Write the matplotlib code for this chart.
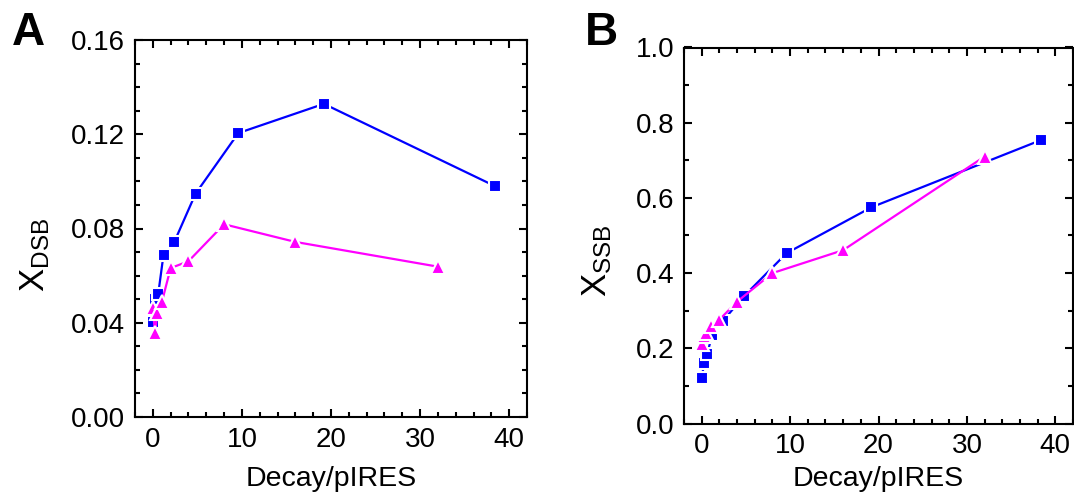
import matplotlib
matplotlib.use("Agg")
import matplotlib.pyplot as plt
from matplotlib.ticker import MultipleLocator

plt.rcParams['font.family'] = ['Liberation Sans', 'DejaVu Sans']
plt.rcParams['mathtext.fontset'] = 'custom'
plt.rcParams['mathtext.rm'] = 'Liberation Sans'
plt.rcParams['mathtext.it'] = 'Liberation Sans'

# ---- data ----
x_blue = [0, 0.3, 0.6, 1.2, 2.4, 4.8, 9.6, 19.2, 38.4]
x_mag = [0, 0.25, 0.5, 1, 2, 4, 8, 16, 32]

dsb_blue = [0.0405, 0.0499, 0.0520, 0.0689, 0.0742, 0.0948, 0.1205, 0.1329, 0.0980]
dsb_mag = [0.0462, 0.0355, 0.0443, 0.0486, 0.0632, 0.0661, 0.0818, 0.0743, 0.0638]

ssb_blue = [0.122, 0.162, 0.184, 0.236, 0.273, 0.339, 0.453, 0.575, 0.754]
ssb_mag = [0.212, 0.232, 0.240, 0.259, 0.276, 0.324, 0.400, 0.461, 0.710]

xlabel = "Decay/pIRES"
ylabels = [r"X$_{\mathrm{DSB}}$", r"X$_{\mathrm{SSB}}$"]
panel_labels = ["A", "B"]

BLUE = "#0000ff"
MAG = "#ff00ff"

W, H = 1074, 492
fig = plt.figure(figsize=(W / 100, H / 100), dpi=100)

def px_rect(l, t, r, b):
    return [l / W, 1 - b / H, (r - l) / W, (b - t) / H]

axA = fig.add_axes(px_rect(135, 40, 527, 417))
axB = fig.add_axes(px_rect(684, 47.5, 1073, 423.5))

def style(ax, ymax, ymaj, ymin):
    ax.set_xlim(-2, 42)
    ax.set_ylim(0, ymax)
    ax.xaxis.set_major_locator(MultipleLocator(10))
    ax.xaxis.set_minor_locator(MultipleLocator(2))
    ax.yaxis.set_major_locator(MultipleLocator(ymaj))
    ax.yaxis.set_minor_locator(MultipleLocator(ymin))
    ax.tick_params(which='both', direction='in', top=True, right=True,
                   labelsize=20, width=1.5, pad=7)
    ax.tick_params(which='major', length=6)
    ax.tick_params(which='minor', length=3.5)
    for s in ax.spines.values():
        s.set_linewidth(1.5)

def draw(ax, xb, yb, xm, ym):
    ax.plot(xb, yb, '-', color=BLUE, lw=1.6, marker='s', ms=8.3,
            mfc=BLUE, mec='white', mew=1.5, zorder=3, clip_on=False)
    ax.plot(xm, ym, '-', color=MAG, lw=1.6, marker='^', ms=10.5,
            mfc=MAG, mec='white', mew=1.5, zorder=4, clip_on=False)

draw(axA, x_blue, dsb_blue, x_mag, dsb_mag)
draw(axB, x_blue, ssb_blue, x_mag, ssb_mag)
style(axA, 0.16, 0.04, 0.01)
style(axB, 1.0, 0.2, 0.1)
axA.yaxis.set_major_formatter(matplotlib.ticker.FormatStrFormatter('%.2f'))
axB.yaxis.set_major_formatter(matplotlib.ticker.FormatStrFormatter('%.1f'))

# axis labels
fig.text(331 / W, 1 - 486 / H, xlabel, fontsize=20.5, ha='center', va='baseline')
fig.text(878.5 / W, 1 - 486 / H, xlabel, fontsize=20.5, ha='center', va='baseline')
fig.text(35 / W, 1 - 255 / H, ylabels[0], fontsize=25, rotation=90,
         ha='center', va='center')
fig.text(597 / W, 1 - 261 / H, ylabels[1], fontsize=25, rotation=90,
         ha='center', va='center')

# panel labels
fig.text(12 / W, 1 - 45 / H, panel_labels[0], fontsize=33, fontweight='bold',
         ha='left', va='baseline')
fig.text(585 / W, 1 - 45 / H, panel_labels[1], fontsize=33, fontweight='bold',
         ha='left', va='baseline')

fig.savefig("out.png", dpi=100)
